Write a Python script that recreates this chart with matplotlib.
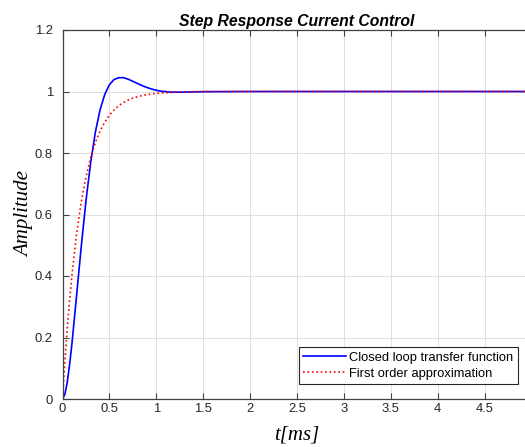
import matplotlib
matplotlib.use("Agg")
import matplotlib.pyplot as plt
from matplotlib.ticker import FormatStrFormatter

# time axis in ms
t_ms = [0, 0.025, 0.05, 0.075, 0.1, 0.15, 0.2, 0.25, 0.3, 0.35, 0.4, 0.45, 0.5,
        0.55, 0.6, 0.65, 0.7, 0.75, 0.8, 0.85, 0.9, 0.95, 1.0, 1.05, 1.1,
        1.15, 1.2, 1.3, 1.4, 1.5, 2.0, 3.0, 4.0, 5.0]

closed_loop = [0, 0.015, 0.053, 0.110, 0.178, 0.336, 0.496, 0.644, 0.768, 0.867,
               0.940, 0.990, 1.022, 1.039, 1.045, 1.045, 1.040, 1.033, 1.026,
               1.019, 1.013, 1.008, 1.004, 1.001, 0.9995, 0.998, 0.998, 0.998,
               0.9987, 0.9993, 1.0, 1.0, 1.0, 1.0]

first_order = [0, 0.120, 0.226, 0.319, 0.401, 0.537, 0.641, 0.722, 0.785, 0.834,
               0.871, 0.900, 0.923, 0.940, 0.954, 0.964, 0.972, 0.979, 0.983,
               0.987, 0.990, 0.992, 0.994, 0.995, 0.996, 0.997, 0.998, 0.999,
               0.999, 1.0, 1.0, 1.0, 1.0, 1.0]

xticks = [0, 0.5, 1, 1.5, 2, 2.5, 3, 3.5, 4, 4.5, 5]
yticks = [0, 0.2, 0.4, 0.6, 0.8, 1, 1.2]

plt.rcParams['font.family'] = ['Liberation Sans', 'DejaVu Sans']

fig = plt.figure(figsize=(5.25, 4.47), dpi=100)
ax = fig.add_axes([62.5 / 525, 48 / 447, 469 / 525, 369 / 447])

ax.plot(t_ms, closed_loop, color='#0000ff', lw=1.2, label='Closed loop transfer function')
ax.plot(t_ms, first_order, color='#ff0000', lw=1.2, ls=':', label='First order approximation')

ax.set_xlim(0, 5)
ax.set_ylim(0, 1.2)
ax.set_xticks(xticks)
ax.set_yticks(yticks)
ax.xaxis.set_major_formatter(FormatStrFormatter('%g'))
ax.yaxis.set_major_formatter(FormatStrFormatter('%g'))

ax.grid(True, color='#dfdfdf', lw=0.7)
ax.set_axisbelow(True)
for sp in ax.spines.values():
    sp.set_color('#404040')
    sp.set_linewidth(0.9)
ax.tick_params(direction='in', length=4, width=0.8, color='#404040',
               labelsize=9.4, labelcolor='#262626', top=True, right=True)
ax.tick_params(axis='x', pad=3)
ax.tick_params(axis='y', pad=7)

ax.set_title('Step Response Current Control', fontsize=11.3, fontweight='bold',
             fontstyle='italic', pad=3)
ax.set_xlabel('t[ms]', fontsize=15, fontstyle='italic', family='Liberation Serif')
ax.set_ylabel('Amplitude', fontsize=15, fontstyle='italic', family='Liberation Serif')
ax.xaxis.set_label_coords(0.5, -0.072)
ax.yaxis.set_label_coords(-0.06, 0.5)

leg = ax.legend(loc='lower right', bbox_to_anchor=(0.9706, 0.0398), borderaxespad=0,
                fontsize=9.3, handlelength=3.3, handletextpad=0.25, borderpad=0.35,
                labelspacing=0.3, fancybox=False, framealpha=1)
leg.get_frame().set_edgecolor('#262626')
leg.get_frame().set_linewidth(0.8)

fig.savefig('out.png', dpi=100)
